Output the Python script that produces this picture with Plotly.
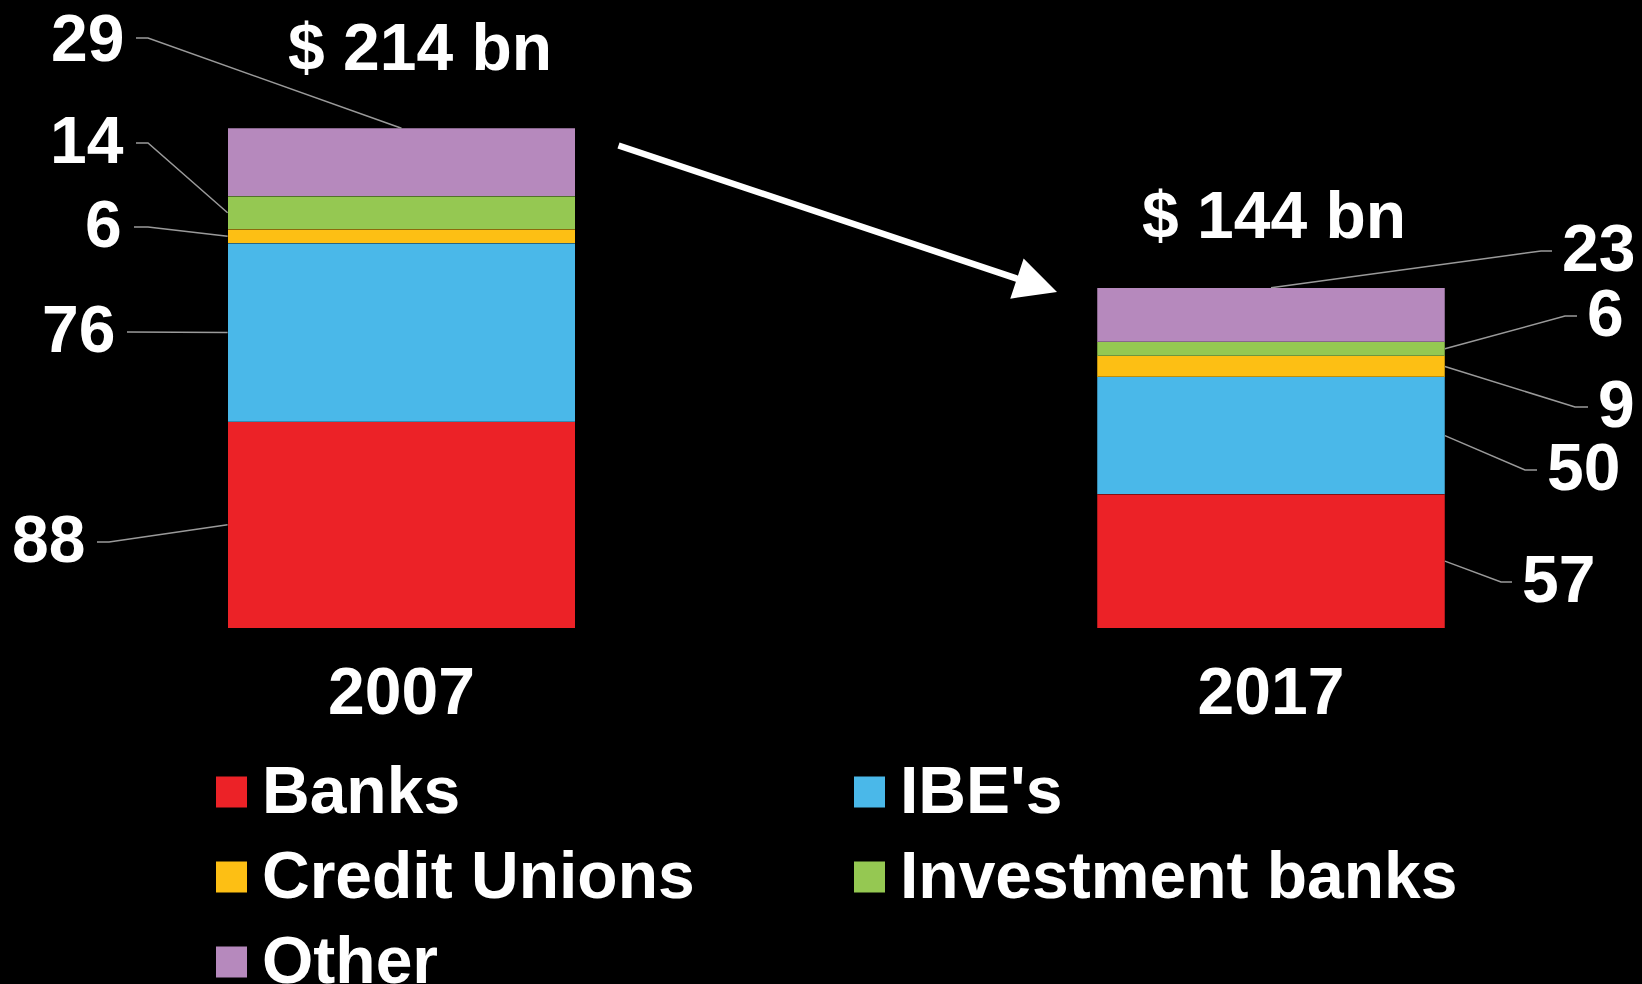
import plotly.graph_objects as go

# ---------------- data ----------------
years = ["2007", "2017"]
series_names = ["Banks", "IBE's", "Credit Unions", "Investment banks", "Other"]
banks = [88, 57]
ibes = [76, 50]
credit_unions = [6, 9]
investment_banks = [14, 6]
other = [29, 23]
totals_text = ["$ 214 bn", "$ 144 bn"]
colors = ["#EC2227", "#4AB8E9", "#FDBF14", "#95C852", "#B689BD"]

series_values = [banks, ibes, credit_unions, investment_banks, other]

# ---------------- layout constants ----------------
W, H = 1642, 984
X0_PX = 401.5        # pixel centre of first category
DX_PX = 869.5        # pixels between categories
Y0_PX = 628          # pixel of value 0
PX_PER_UNIT = 2.346  # pixels per value unit
BAR_W = 0.4
FONT = "Liberation Sans, Arial, Helvetica, sans-serif"
FS = 66
LEADER_COLOR = "#9a9a9a"


def px2x(px):
    return (px - X0_PX) / DX_PX


def py2y(py):
    return (Y0_PX - py) / PX_PER_UNIT


def py2paper(py):
    return (Y0_PX - py) / Y0_PX


xs = [0, 1]
fig = go.Figure()

for name, vals, col in zip(series_names, series_values, colors):
    fig.add_trace(go.Bar(
        x=xs, y=vals, name=name, width=BAR_W,
        marker=dict(color=col, line=dict(color="rgba(0,0,0,0.25)", width=1)),
        showlegend=False, hoverinfo="y",
    ))

# ---------------- leader lines and value labels ----------------
# label placement (pixels): outer end of leader, kink x, y, text y-shift
leader_layout = [
    # 2007 (labels on the left)
    [(97, 109, 542, 3), (127, 139, 332, 3), (134, 148, 227, 3), (136, 148, 143, 3), (136, 148, 38, 0)],
    # 2017 (labels on the right)
    [(1512, 1501, 582, 3), (1537, 1525, 470, 3), (1588, 1575, 407, 3), (1577, 1565, 316, 3), (1552, 1541, 251, 3)],
]

annotations = []
for yi in range(2):
    cum = 0
    for si, vals in enumerate(series_values):
        v = vals[yi]
        if si == len(series_values) - 1:
            ax_, ay_ = xs[yi], cum + v          # top centre of the bar
        else:
            side = -1 if yi == 0 else 1
            ax_, ay_ = xs[yi] + side * BAR_W / 2, cum + v / 2
        cum += v
        outer, kink, ypx, ysh = leader_layout[yi][si]
        fig.add_trace(go.Scatter(
            x=[px2x(outer), px2x(kink), ax_],
            y=[py2y(ypx), py2y(ypx), ay_],
            mode="lines", line=dict(color=LEADER_COLOR, width=1.5),
            showlegend=False, hoverinfo="skip", cliponaxis=False,
        ))
        if yi == 0:
            annotations.append(dict(
                x=px2x(outer - 10), y=py2y(ypx), xref="x", yref="y", yshift=ysh,
                text=str(v), showarrow=False, xanchor="right", yanchor="middle",
                font=dict(family=FONT, size=FS, color="white", weight="bold")))
        else:
            annotations.append(dict(
                x=px2x(outer + 8), y=py2y(ypx), xref="x", yref="y", yshift=ysh,
                text=str(v), showarrow=False, xanchor="left", yanchor="middle",
                font=dict(family=FONT, size=FS, color="white", weight="bold")))

# ---------------- totals ----------------
totals = [sum(v[i] for v in series_values) for i in range(2)]
total_shift = [(18, 81), (3, 73)]
for i in range(2):
    annotations.append(dict(
        x=xs[i], y=totals[i], xref="x", yref="y", text=totals_text[i],
        showarrow=False, xanchor="center", yanchor="middle",
        xshift=total_shift[i][0], yshift=total_shift[i][1],
        font=dict(family=FONT, size=FS, color="white", weight="bold")))

# ---------------- arrow ----------------
annotations.append(dict(
    x=px2x(1057), y=py2y(292), ax=px2x(617), ay=py2y(145),
    xref="x", yref="y", axref="x", ayref="y", text="",
    showarrow=True, arrowhead=2, arrowsize=1.3, arrowwidth=6.5, arrowcolor="white"))

# ---------------- legend (manual) ----------------
shapes = []
legend_cols = [216, 854]
legend_rows = [792, 877, 962]
SQ = 31
for i, (name, col) in enumerate(zip(series_names, colors)):
    cx = legend_cols[i % 2]
    cy = legend_rows[i // 2]
    shapes.append(dict(
        type="rect", xref="paper", yref="paper",
        x0=cx / W, x1=(cx + SQ) / W,
        y0=py2paper(cy + SQ / 2), y1=py2paper(cy - SQ / 2),
        fillcolor=col, line=dict(width=0)))
    annotations.append(dict(
        x=(cx + 44) / W, y=py2paper(cy), xref="paper", yref="paper", yshift=2,
        text=name, showarrow=False, xanchor="left", yanchor="middle",
        font=dict(family=FONT, size=FS, color="white", weight="bold")))

fig.update_layout(
    width=W, height=H,
    barmode="stack",
    paper_bgcolor="black", plot_bgcolor="black",
    margin=dict(l=0, r=0, t=0, b=H - Y0_PX),
    showlegend=False,
    annotations=annotations,
    shapes=shapes,
    xaxis=dict(
        range=[px2x(0), px2x(W)], tickvals=xs, ticktext=years,
        showgrid=False, zeroline=False, showline=False, ticks="",
        tickfont=dict(family=FONT, size=FS, color="white", weight="bold"),
        ticklabelstandoff=19, fixedrange=True),
    yaxis=dict(range=[0, py2y(0)], visible=False, fixedrange=True),
)

fig.write_html(
    "out.html",
    config={"displayModeBar": False},
    post_script="document.body.style.margin='0';document.body.style.background='black';document.body.style.overflow='hidden';",
)
